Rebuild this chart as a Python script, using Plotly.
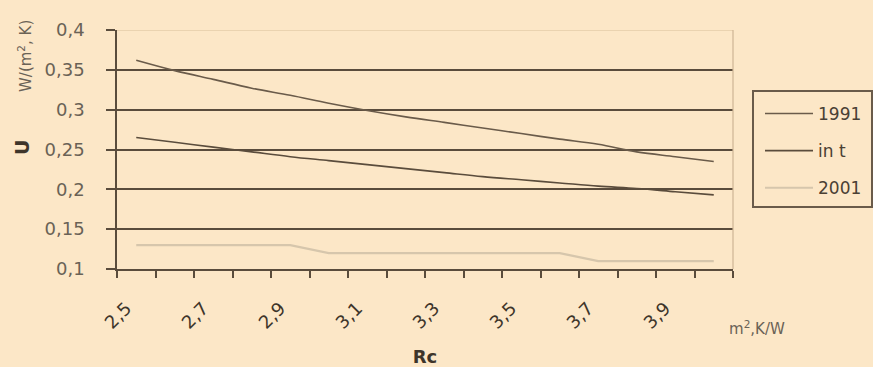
import plotly.graph_objects as go

# Thermal resistance Rc (m²K/W) and transmittance U (W/(m²K))
rc = [2.5, 2.6, 2.7, 2.8, 2.9, 3.0, 3.1, 3.2, 3.3, 3.4, 3.5, 3.6, 3.7, 3.8, 3.9, 4.0]
u_1991 = [0.362, 0.349, 0.338, 0.327, 0.318, 0.308, 0.299, 0.291, 0.284, 0.277,
          0.270, 0.263, 0.2565, 0.247, 0.241, 0.235]
u_in_t = [0.265, 0.259, 0.253, 0.247, 0.241, 0.236, 0.231, 0.226, 0.221, 0.216,
          0.212, 0.208, 0.204, 0.201, 0.197, 0.193]
u_2001 = [0.13, 0.13, 0.13, 0.13, 0.13, 0.12, 0.12, 0.12, 0.12, 0.12,
          0.12, 0.12, 0.11, 0.11, 0.11, 0.11]
series_names = ["1991", "in t", "2001"]
y_ticks = [0.1, 0.15, 0.2, 0.25, 0.3, 0.35, 0.4]
x_label_vals = rc[::2]

BG = "#FCE7C7"
GRID = "#5A4C3C"
DARK = "#6A5B4A"
LIGHT = "#D6C6AC"
FONT = "DejaVu Sans, Verdana, sans-serif"

fig = go.Figure()
styles = [(DARK, 1.6, "spline"), ("#5A4C3C", 1.6, "spline"), (LIGHT, 2.2, "linear")]
for i, (name, vals, (col, w, shp)) in enumerate(zip(series_names, [u_1991, u_in_t, u_2001], styles)):
    fig.add_trace(go.Scatter(x=rc, y=vals, mode="lines", name=name,
                             legendgroup=f"g{i}",
                             line=dict(color=col, width=w, shape=shp)))

# boundaries between categories for the small tick marks
step = rc[1] - rc[0]
x_lo = rc[0] - step / 2
x_hi = rc[-1] + step / 2

fig.update_layout(
    width=873, height=367,
    margin=dict(l=117, r=140, t=30, b=98, autoexpand=False),
    paper_bgcolor=BG, plot_bgcolor=BG,
    separators=", ",
    font=dict(family=FONT, color="#4A4034", size=16),
    showlegend=True,
    legend=dict(x=(760 - 117) / 616, y=(269 - 96) / 239, xanchor="left", yanchor="top",
                bgcolor="rgba(0,0,0,0)", borderwidth=0, itemwidth=48,
                traceorder="grouped", tracegroupgap=12,
                font=dict(size=17, color="#4A4034", family=FONT)),
    xaxis=dict(range=[x_lo, x_hi], showgrid=False, zeroline=False, automargin=False,
               showline=True, linecolor=GRID, linewidth=1.5,
               tickmode="array", tickvals=x_label_vals, ticks="",
               tickangle=-45, ticklabelstandoff=20, ticklabelshift=-10,
               tickfont=dict(size=18, color="#3E352A"),
               minor=dict(ticks="outside", ticklen=7, tickwidth=1.5, tickcolor=GRID,
                          tick0=x_lo, dtick=step, showgrid=False),
               title=dict(text="<b>Rc</b>", font=dict(size=18, color="#3E352A"), standoff=22)),
    yaxis=dict(range=[0.1, 0.4], tickmode="array", tickvals=y_ticks, automargin=False,
               showgrid=True, gridcolor=GRID, gridwidth=1.6, zeroline=False,
               showline=True, linecolor=GRID, linewidth=1.5,
               ticks="outside", ticklen=9, tickwidth=1.5, tickcolor=GRID,
               ticklabelstandoff=18,
               tickfont=dict(size=18, color="#6A6256")),
)

# faint plot-area border on top and right
fig.add_shape(type="line", xref="paper", yref="y", x0=0, x1=1, y0=0.4, y1=0.4,
              line=dict(color="#EAD3B0", width=2), layer="above")
fig.add_shape(type="line", xref="paper", yref="paper", x0=1, x1=1, y0=0, y1=1,
              line=dict(color="#CDB594", width=1.2), layer="above")
# legend frame
fig.add_shape(type="rect", xref="paper", yref="paper",
              x0=(753 - 117) / 616, x1=(872 - 117) / 616,
              y0=(269 - 207) / 239, y1=(269 - 91) / 239,
              line=dict(color="#6A5B4A", width=2), fillcolor="rgba(0,0,0,0)")

# axis titles and units
fig.add_annotation(text="<b>U</b>", xref="paper", yref="paper",
                   x=(22 - 117) / 616, y=(269 - 148) / 239, showarrow=False,
                   xanchor="center", yanchor="middle",
                   textangle=-90, font=dict(size=19, color="#3E352A"))
fig.add_annotation(text="W/(m<sup>2</sup>, K)", xref="paper", yref="paper",
                   x=(25 - 117) / 616, y=(269 - 56) / 239, showarrow=False,
                   xanchor="center", yanchor="middle",
                   textangle=-90, font=dict(size=15, color="#6A6256"))
fig.add_annotation(text="m<sup>2</sup>,K/W", xref="paper", yref="paper",
                   x=(757 - 117) / 616, y=(269 - 328) / 239, showarrow=False,
                   xanchor="center", yanchor="middle",
                   font=dict(size=15, color="#6A6256"))

fig.write_html("out.html")
